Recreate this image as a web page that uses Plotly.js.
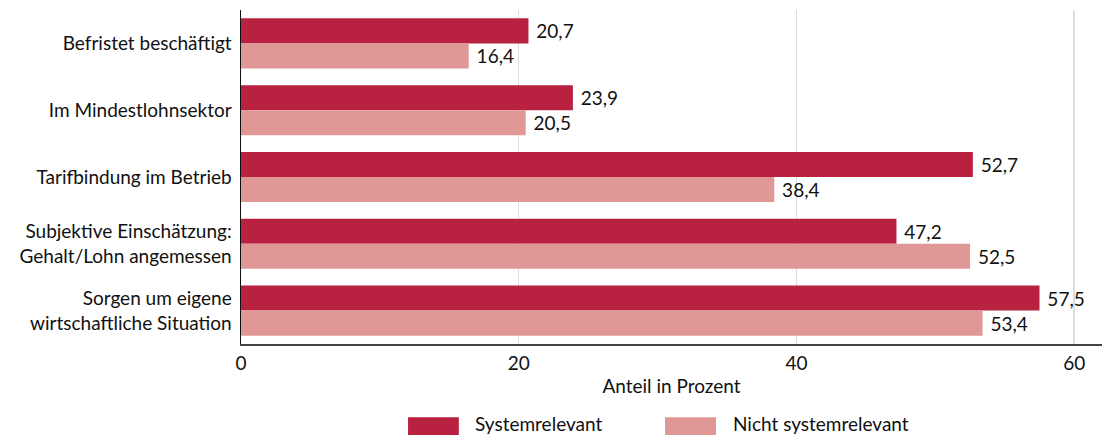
<!DOCTYPE html>
<html>
<head>
<meta charset="utf-8">
<script src="https://cdn.plot.ly/plotly-3.0.1.min.js"></script>
<style>html,body{margin:0;padding:0;background:#fff;}#chart{width:1105px;height:435px;}</style>
</head>
<body>
<div id="chart"></div>
<script>
const categories = [
  "Befristet beschäftigt",
  "Im Mindestlohnsektor",
  "Tarifbindung im Betrieb",
  "Subjektive Einschätzung:<br>Gehalt/Lohn angemessen",
  "Sorgen um eigene<br>wirtschaftliche Situation"
];
const seriesNames = ["Systemrelevant", "Nicht systemrelevant"];
const systemrelevant = [20.7, 23.9, 52.7, 47.2, 57.5];
const nichtSystemrelevant = [16.4, 20.5, 38.4, 52.5, 53.4];
const xTicks = [0, 20, 40, 60];

const colors = ["#B82240", "#E09896"];
const FONT = "Lato, 'Open Sans', sans-serif";

const traces = [systemrelevant, nichtSystemrelevant].map((vals, i) => ({
  type: "bar",
  orientation: "h",
  name: seriesNames[i],
  y: categories,
  x: vals,
  marker: {color: colors[i], line: {width: 0}},
  texttemplate: " %{x:.1f}",
  textposition: "outside",
  textfont: {size: 19, color: "#111", family: FONT},
  cliponaxis: false,
  showlegend: false,
  hoverinfo: "x+y"
}));

// custom legend (large swatches)
const legendSwatch = [[0.194, 0.253], [0.4925, 0.5517]];
const legendText = [0.2706, 0.570];
const shapes = legendSwatch.map((p, i) => ({
  type: "rect", xref: "paper", yref: "paper",
  x0: p[0], x1: p[1], y0: -0.219, y1: -0.30,
  fillcolor: colors[i], line: {width: 0}
}));
const annotations = legendText.map((x, i) => ({
  xref: "paper", yref: "paper", x: x, y: -0.237,
  xanchor: "left", yanchor: "middle", showarrow: false,
  borderpad: 0,
  text: seriesNames[i], font: {size: 19, color: "#111", family: FONT}
}));

const layout = {
  width: 1105, height: 435,
  margin: {l: 241, r: 3, t: 10, b: 91},
  paper_bgcolor: "#fff", plot_bgcolor: "#fff",
  font: {family: FONT, color: "#111"},
  barmode: "group",
  bargap: 0.25,
  bargroupgap: 0,
  separators: ",.",
  xaxis: {
    range: [0, 62],
    tickvals: xTicks,
    ticktext: xTicks.map(String),
    showgrid: true, gridcolor: "#dedede", gridwidth: 1.5,
    zeroline: false,
    showline: true, linecolor: "#444", linewidth: 1.5,
    ticks: "", ticklen: 0,
    ticklabelstandoff: 2,
    tickfont: {size: 19, color: "#111"},
    title: {text: "Anteil in Prozent", font: {size: 19, color: "#111"}, standoff: 6}
  },
  yaxis: {
    autorange: "reversed",
    showline: true, linecolor: "#111", linewidth: 1.5,
    showgrid: false, zeroline: false,
    ticks: "", ticklabelstandoff: 4,
    tickfont: {size: 19, color: "#111"}
  },
  shapes: shapes,
  annotations: annotations,
  showlegend: false
};

Plotly.newPlot("chart", traces, layout, {displayModeBar: false, staticPlot: true});
</script>
</body>
</html>
